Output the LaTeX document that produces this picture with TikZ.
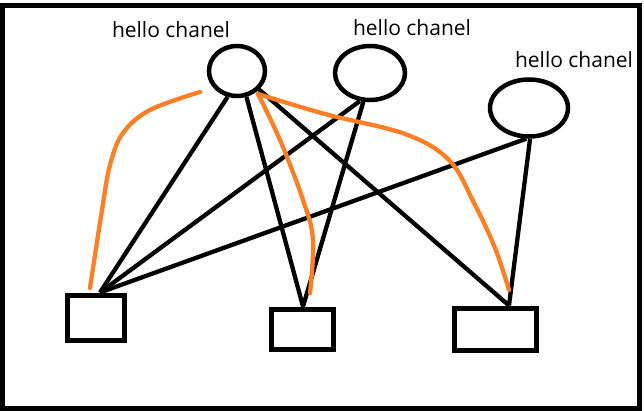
\documentclass[tikz,border=0pt]{standalone}
\usepackage{fontspec}
\setmainfont{Open Sans}
\usetikzlibrary{shapes.geometric,calc}
\definecolor{paintorange}{HTML}{FF7F27}
\begin{document}
\begin{tikzpicture}[x=1pt,y=-1pt,
  chan/.style={ellipse,draw,line width=4.5pt,inner sep=0pt},
  box/.style={rectangle,draw,line width=5pt,inner sep=0pt},
  lbl/.style={anchor=base,inner sep=0pt,font=\fontsize{21}{25}\selectfont},
  wire/.style={line width=4.3pt},
  owire/.style={line width=4.3pt,paintorange,line cap=round}]
\useasboundingbox (0,0) rectangle (644,411);
\draw[line width=5.5pt] (2.5,5.5) rectangle (639.5,408.5);

\node[chan,minimum width=56pt,minimum height=50pt] (C1) at (237,71) {};
\node[chan,minimum width=70pt,minimum height=54pt] (C2) at (370,73) {};
\node[chan,minimum width=78pt,minimum height=57pt] (C3) at (529,108) {};

\node[lbl] (L1) at (171,38) {hello chanel};
\node[lbl] (L2) at (412,36) {hello chanel};
\node[lbl] (L3) at (574,68) {hello chanel};

\node[box,minimum width=57pt,minimum height=45pt] (R1) at (95.5,317.5) {};
\node[box,minimum width=62pt,minimum height=40pt] (R2) at (302,329) {};
\node[box,minimum width=82pt,minimum height=42pt] (R3) at (495,329) {};

\coordinate (P1) at ($(R1.north)+(4.5,0)$);
\coordinate (P2) at ($(R2.north)+(1,0)$);
\coordinate (P3) at ($(R3.north)+(14,0)$);

\draw[wire] (P1) -- (C1.250);
\draw[wire] (P1) -- (C2.250);
\draw[wire] (P1) -- (C3.265);
\draw[wire] (P2) -- (C1.290);
\draw[wire] (P2) -- (C2.257);
\draw[wire] (P3) -- (C1.320);
\draw[wire] (P3) -- (C3.272);

\draw[owire] plot[smooth,tension=0.6] coordinates {(200,92) (150,110) (123,133) (110,165) (102,210) (90,288)};
\draw[owire] plot[smooth,tension=0.6] coordinates {(258,94) (280,140) (303,200) (313,240) (310,293)};
\draw[owire] plot[smooth,tension=0.6] coordinates {(258,94) (325,114) (405,134) (449,160) (474,203) (495,248) (509,290)};
\end{tikzpicture}
\end{document}
